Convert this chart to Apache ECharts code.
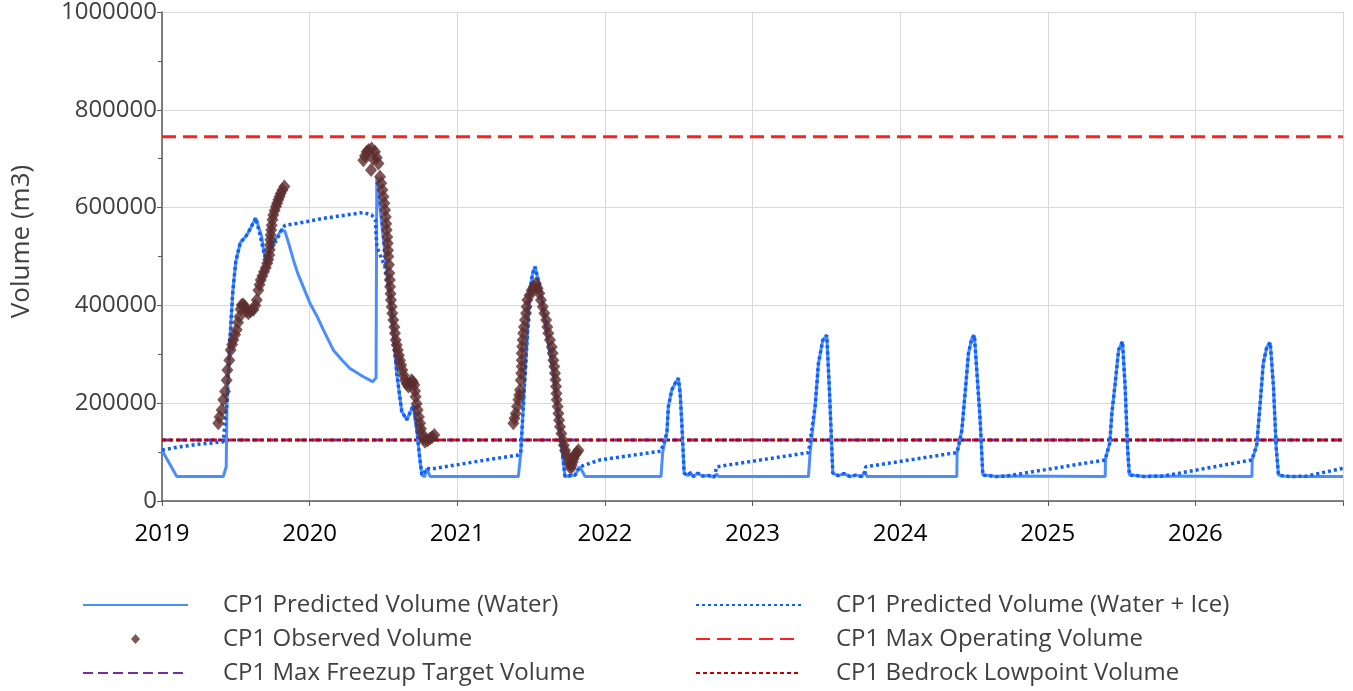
<!DOCTYPE html>
<html>
<head>
<meta charset="utf-8">
<script src="https://cdn.jsdelivr.net/npm/echarts@6/dist/echarts.min.js"></script>
<style>
  html, body { margin: 0; padding: 0; background: #fff; }
  #chart { width: 1353px; height: 691px; }
</style>
</head>
<body>
<div id="chart"></div>
<script>
// values, x as decimal years
const waterVolume = [
  [2019.00, 104000], [2019.10, 50000], [2019.415, 50000], [2019.435, 70000], [2019.44, 200000],
  [2019.46, 330000], [2019.48, 430000], [2019.50, 490000], [2019.53, 528000], [2019.57, 542000],
  [2019.60, 558000], [2019.635, 579000], [2019.655, 560000], [2019.675, 541000], [2019.69, 510000],
  [2019.705, 487000], [2019.72, 505000], [2019.743, 524000], [2019.78, 540000], [2019.81, 556000],
  [2019.833, 551000], [2019.86, 525000], [2019.89, 493000], [2019.92, 465000], [2019.957, 438000],
  [2020.003, 404000], [2020.05, 378000], [2020.093, 350000], [2020.16, 309000], [2020.22, 288000],
  [2020.274, 271000], [2020.364, 254000], [2020.427, 244000], [2020.45, 252000], [2020.455, 663000],
  [2020.50, 534000], [2020.545, 411000], [2020.57, 330000], [2020.59, 261000], [2020.624, 183000],
  [2020.658, 166000], [2020.703, 196000], [2020.726, 145000], [2020.745, 90000], [2020.76, 53000],
  [2020.78, 50000], [2020.794, 67000], [2020.816, 50000], [2021.414, 50000], [2021.43, 98000],
  [2021.46, 262000], [2021.493, 431000], [2021.51, 465000], [2021.527, 479000], [2021.56, 438000],
  [2021.606, 343000], [2021.65, 262000], [2021.696, 139000], [2021.73, 50000], [2021.798, 53000],
  [2021.83, 70000], [2021.866, 50000], [2022.38, 50000], [2022.392, 101000], [2022.42, 139000],
  [2022.43, 193000], [2022.453, 227000], [2022.475, 240000], [2022.498, 251000], [2022.51, 220000],
  [2022.52, 166000], [2022.537, 57000], [2022.56, 52000], [2022.58, 58000], [2022.60, 50000],
  [2022.63, 57000], [2022.66, 51000], [2022.70, 52000], [2022.74, 49000], [2022.758, 55000],
  [2022.77, 50000], [2023.379, 50000], [2023.39, 98000], [2023.424, 193000], [2023.447, 282000],
  [2023.476, 329000], [2023.503, 339000], [2023.52, 234000], [2023.544, 57000], [2023.58, 52000],
  [2023.62, 56000], [2023.66, 50000], [2023.70, 53000], [2023.74, 50000], [2023.763, 60000],
  [2023.775, 50000], [2024.384, 50000], [2024.386, 99000], [2024.395, 111000], [2024.418, 145000],
  [2024.44, 220000], [2024.463, 302000], [2024.486, 333000], [2024.503, 339000], [2024.519, 268000],
  [2024.542, 166000], [2024.56, 53000], [2024.60, 52000], [2024.65, 50000], [2024.70, 51000],
  [2025.389, 50000], [2025.391, 84000], [2025.40, 97000], [2025.42, 118000], [2025.434, 179000],
  [2025.457, 241000], [2025.48, 309000], [2025.506, 326000], [2025.524, 234000], [2025.54, 111000],
  [2025.553, 53000], [2025.60, 52000], [2025.65, 50000], [2025.70, 51000], [2026.383, 50000],
  [2026.385, 84000], [2026.416, 115000], [2026.439, 200000], [2026.46, 282000], [2026.484, 315000],
  [2026.507, 324000], [2026.529, 234000], [2026.547, 111000], [2026.563, 53000], [2026.60, 51000],
  [2026.65, 50000], [2027.00, 50000]
]

const waterIceVolume = [
  [2019.00, 104000], [2019.10, 110000], [2019.25, 116000], [2019.415, 121000], [2019.44, 200000],
  [2019.46, 330000], [2019.48, 430000], [2019.50, 490000], [2019.53, 528000], [2019.57, 542000],
  [2019.60, 558000], [2019.635, 579000], [2019.655, 555000], [2019.697, 500000], [2019.732, 513000],
  [2019.777, 534000], [2019.81, 554000], [2019.833, 564000], [2019.923, 568000], [2020.093, 578000],
  [2020.364, 590000], [2020.42, 585000], [2020.445, 575000], [2020.455, 520000], [2020.51, 479000],
  [2020.545, 411000], [2020.57, 330000], [2020.59, 261000], [2020.624, 183000], [2020.658, 166000],
  [2020.703, 196000], [2020.726, 145000], [2020.745, 90000], [2020.76, 53000], [2020.78, 60000],
  [2020.794, 67000], [2020.82, 65000], [2021.155, 82000], [2021.414, 94000], [2021.43, 98000],
  [2021.46, 262000], [2021.493, 431000], [2021.51, 465000], [2021.527, 479000], [2021.56, 438000],
  [2021.606, 343000], [2021.65, 262000], [2021.696, 139000], [2021.73, 50000], [2021.798, 53000],
  [2021.83, 70000], [2021.967, 84000], [2022.38, 102000], [2022.42, 139000], [2022.43, 193000],
  [2022.453, 227000], [2022.475, 240000], [2022.498, 251000], [2022.51, 220000], [2022.52, 166000],
  [2022.537, 57000], [2022.56, 52000], [2022.58, 58000], [2022.60, 50000], [2022.63, 57000],
  [2022.66, 51000], [2022.70, 52000], [2022.74, 49000], [2022.758, 70000], [2023.379, 99000],
  [2023.424, 193000], [2023.447, 282000], [2023.476, 329000], [2023.503, 339000], [2023.52, 234000],
  [2023.544, 57000], [2023.58, 52000], [2023.62, 56000], [2023.66, 50000], [2023.70, 53000],
  [2023.74, 50000], [2023.763, 60000], [2023.767, 70000], [2024.384, 99000], [2024.395, 111000],
  [2024.418, 145000], [2024.44, 220000], [2024.463, 302000], [2024.486, 333000], [2024.503, 339000],
  [2024.519, 268000], [2024.542, 166000], [2024.56, 53000], [2024.60, 52000], [2024.65, 50000],
  [2024.72, 51000], [2025.389, 84000], [2025.40, 97000], [2025.42, 118000], [2025.434, 179000],
  [2025.457, 241000], [2025.48, 309000], [2025.506, 326000], [2025.524, 234000], [2025.54, 111000],
  [2025.553, 53000], [2025.60, 52000], [2025.65, 50000], [2025.784, 51000], [2026.383, 84000],
  [2026.416, 115000], [2026.439, 200000], [2026.46, 282000], [2026.484, 315000], [2026.507, 324000],
  [2026.529, 234000], [2026.547, 111000], [2026.563, 53000], [2026.60, 51000], [2026.65, 50000],
  [2026.755, 51000], [2027.00, 67000]
]

const observedVolume = [
  [2019.381, 159000], [2019.39, 172000], [2019.404, 186000], [2019.415, 207000], [2019.427, 224000],
  [2019.438, 247000], [2019.443, 268000], [2019.456, 288000], [2019.465, 309000], [2019.475, 320000],
  [2019.483, 329000], [2019.495, 340000], [2019.506, 350000], [2019.515, 365000], [2019.524, 377000],
  [2019.532, 392000], [2019.54, 401000], [2019.55, 402000], [2019.562, 397000], [2019.572, 388000],
  [2019.585, 384000], [2019.60, 388000], [2019.619, 391000], [2019.632, 400000], [2019.642, 411000],
  [2019.653, 431000], [2019.661, 442000], [2019.669, 452000], [2019.68, 460000], [2019.691, 469000],
  [2019.703, 477000], [2019.713, 486000], [2019.72, 494000], [2019.727, 503000], [2019.73, 514000],
  [2019.732, 524000], [2019.734, 534000], [2019.736, 544000], [2019.74, 554000], [2019.743, 564000],
  [2019.748, 575000], [2019.754, 585000], [2019.763, 594000], [2019.772, 602000], [2019.78, 609000],
  [2019.788, 616000], [2019.796, 622000], [2019.804, 629000], [2019.816, 636000], [2019.829, 643000],
  [2020.364, 697000], [2020.375, 706000], [2020.387, 714000], [2020.40, 718000], [2020.42, 721000],
  [2020.443, 714000], [2020.416, 677000], [2020.43, 700000], [2020.455, 702000], [2020.466, 690000],
  [2020.477, 663000], [2020.485, 650000], [2020.493, 636000], [2020.50, 622000], [2020.506, 609000],
  [2020.511, 595000], [2020.516, 581000], [2020.519, 567000], [2020.522, 554000], [2020.526, 540000],
  [2020.529, 527000], [2020.531, 513000], [2020.533, 500000], [2020.537, 483000], [2020.54, 466000],
  [2020.543, 452000], [2020.545, 438000], [2020.548, 424000], [2020.551, 411000], [2020.556, 397000],
  [2020.56, 384000], [2020.567, 370000], [2020.574, 356000], [2020.578, 343000], [2020.583, 329000],
  [2020.59, 319000], [2020.597, 309000], [2020.605, 298000], [2020.612, 288000], [2020.62, 278000],
  [2020.628, 268000], [2020.637, 257000], [2020.646, 247000], [2020.657, 240000], [2020.669, 234000],
  [2020.68, 240000], [2020.691, 247000], [2020.70, 243000], [2020.709, 237000], [2020.714, 225000],
  [2020.718, 213000], [2020.725, 199000], [2020.732, 186000], [2020.74, 172000], [2020.748, 159000],
  [2020.754, 148000], [2020.76, 138000], [2020.77, 129000], [2020.782, 121000], [2020.80, 124000],
  [2020.816, 128000], [2020.83, 131000], [2020.845, 135000],
  [2021.38, 159000], [2021.388, 169000], [2021.396, 179000], [2021.405, 193000], [2021.414, 207000],
  [2021.42, 217000], [2021.425, 227000], [2021.43, 247000], [2021.434, 261000], [2021.437, 275000],
  [2021.437, 288000], [2021.437, 302000], [2021.44, 316000], [2021.443, 329000], [2021.447, 343000],
  [2021.452, 356000], [2021.459, 370000], [2021.466, 384000], [2021.47, 397000], [2021.475, 411000],
  [2021.49, 421000], [2021.504, 431000], [2021.518, 438000], [2021.533, 445000], [2021.545, 435000],
  [2021.556, 425000], [2021.567, 411000], [2021.579, 397000], [2021.59, 384000], [2021.602, 370000],
  [2021.61, 356000], [2021.617, 343000], [2021.628, 329000], [2021.64, 315000], [2021.646, 302000],
  [2021.651, 288000], [2021.657, 275000], [2021.662, 261000], [2021.666, 248000], [2021.669, 234000],
  [2021.672, 220000], [2021.674, 207000], [2021.68, 193000], [2021.685, 179000], [2021.69, 165000],
  [2021.696, 152000], [2021.705, 138000], [2021.715, 125000], [2021.722, 114000], [2021.73, 104000],
  [2021.742, 94000], [2021.753, 84000], [2021.76, 75000], [2021.769, 67000], [2021.776, 73000],
  [2021.782, 80000], [2021.79, 87000], [2021.798, 94000], [2021.81, 99000], [2021.821, 104000]
]

const maxOperatingVolume = 745000
const maxFreezupVolume = 125000
const bedrockLowpointVolume = 125000
const xRange = [2019, 2027]
const yTicks = [0, 200000, 400000, 600000, 800000, 1000000]

const fontFamily = '"Open Sans", sans-serif'
const flat = (v) => xRange.map(x => [x, v])

// small diamond centred in the wide legend box
const diamondIcon = 'path://M0,50L0,50M1050,50L1050,50M525,0L570,50L525,100L480,50Z'

const chart = echarts.init(document.getElementById('chart'), null, { renderer: 'canvas' })

const legendCommon = {
  orient: 'vertical',
  top: 593,
  height: 98,
  padding: 0,
  itemWidth: 105,
  itemHeight: 10,
  itemGap: 10,
  textStyle: { fontFamily, fontSize: 24, color: '#404040', padding: [0, 0, 0, 30] }
}
const noDot = { opacity: 0 }

chart.setOption({
  animation: false,
  backgroundColor: '#fff',
  grid: { left: 162, right: 10, top: 12, bottom: 190, outerBoundsMode: 'none', containLabel: false },
  legend: [
    Object.assign({
      left: 82,
      data: [
        { name: 'CP1 Predicted Volume (Water)', itemStyle: noDot },
        { name: 'CP1 Observed Volume', icon: diamondIcon },
        { name: 'CP1 Max Freezup Target Volume', itemStyle: noDot }
      ]
    }, legendCommon),
    Object.assign({
      left: 695,
      data: [
        { name: 'CP1 Predicted Volume (Water + Ice)', itemStyle: noDot },
        { name: 'CP1 Max Operating Volume', itemStyle: noDot },
        { name: 'CP1 Bedrock Lowpoint Volume', itemStyle: noDot }
      ]
    }, legendCommon)
  ],
  xAxis: {
    type: 'value',
    min: xRange[0],
    max: xRange[1],
    interval: 1,
    axisLine: { lineStyle: { color: '#595959', width: 1.5 } },
    axisTick: { show: true, length: 5, lineStyle: { color: '#595959' } },
    splitLine: { show: true, lineStyle: { color: '#d9d9d9', width: 1 } },
    axisLabel: {
      margin: 21,
      fontFamily,
      fontSize: 24,
      color: '#000',
      formatter: (v) => (v >= xRange[1] ? '' : String(v))
    }
  },
  yAxis: {
    type: 'value',
    min: yTicks[0],
    max: yTicks[yTicks.length - 1],
    interval: 200000,
    name: 'Volume (m3)',
    nameLocation: 'middle',
    nameGap: 127,
    nameTextStyle: { fontFamily, fontSize: 26, color: '#404040', padding: [0, 0, 0, 30] },
    axisLine: { show: true, lineStyle: { color: '#595959', width: 1.5 } },
    axisTick: { show: true, length: 5, lineStyle: { color: '#595959' } },
    minorTick: { show: true, splitNumber: 2, length: 4, lineStyle: { color: '#595959' } },
    splitLine: { show: true, lineStyle: { color: '#d9d9d9', width: 1 } },
    axisLabel: { margin: 5, fontFamily, fontSize: 24, color: '#404040', formatter: (v) => String(v) }
  },
  series: [
    {
      name: 'CP1 Predicted Volume (Water)',
      type: 'line',
      data: waterVolume,
      symbol: 'none',
      z: 3,
      lineStyle: { color: '#4a8dff', width: 3 },
      itemStyle: { color: '#4a8dff' }
    },
    {
      name: 'CP1 Predicted Volume (Water + Ice)',
      type: 'line',
      data: waterIceVolume,
      symbol: 'none',
      z: 4,
      lineStyle: { color: '#0f5fff', width: 3.5, type: [3, 3] },
      itemStyle: { color: '#0f5fff' }
    },
    {
      name: 'CP1 Max Operating Volume',
      type: 'line',
      data: flat(maxOperatingVolume),
      symbol: 'none',
      z: 2,
      lineStyle: { color: '#ff1f1f', width: 3, type: [14, 7] },
      itemStyle: { color: '#ff1f1f' }
    },
    {
      name: 'CP1 Max Freezup Target Volume',
      type: 'line',
      data: flat(maxFreezupVolume),
      symbol: 'none',
      z: 2,
      lineStyle: { color: '#7030a0', width: 3, type: [10, 5] },
      itemStyle: { color: '#7030a0' }
    },
    {
      name: 'CP1 Bedrock Lowpoint Volume',
      type: 'line',
      data: flat(bedrockLowpointVolume),
      symbol: 'none',
      z: 2,
      lineStyle: { color: '#c00000', width: 3, type: [4, 3] },
      itemStyle: { color: '#c00000' }
    },
    {
      name: 'CP1 Observed Volume',
      type: 'scatter',
      data: observedVolume,
      symbol: 'diamond',
      symbolSize: [12, 14],
      z: 5,
      itemStyle: { color: '#5c2c2c' }
    }
  ]
})
</script>
</body>
</html>
